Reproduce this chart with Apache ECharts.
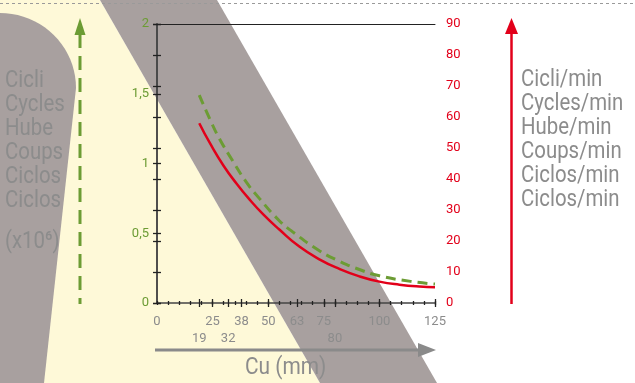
<!DOCTYPE html>
<html><head><meta charset="utf-8">
<style>html,body{margin:0;padding:0;background:#fff}#c{width:635px;height:383px}</style>
<script src="https://cdn.jsdelivr.net/npm/echarts@6/dist/echarts.min.js"></script>
</head><body><div id="c"></div>
<script>
// ---- data ----
const xRed = [19, 24, 30, 36, 41, 48, 55, 64, 73, 82, 91, 100, 109, 118, 125];
const yRed = [58, 51.3, 44.2, 38.3, 33.9, 28.4, 23.7, 18.2, 14.1, 11.0, 8.6, 6.9, 5.9, 5.3, 5.1];
const xGreen = [19, 24, 28, 34, 40, 46, 55, 61, 73, 82, 91, 100, 114, 125];
const yGreen = [1.49, 1.31, 1.18, 1.02, 0.87, 0.75, 0.59, 0.51, 0.375, 0.30, 0.24, 0.195, 0.155, 0.136];
const majorTicks = [19, 25, 32, 38, 50, 63, 75, 80, 100, 125];
const labelsRow1 = [0, 25, 38, 50, 63, 75, 100, 125];
const labelsRow2 = [19, 32, 80];
const leftText = ['Cicli', 'Cycles', 'Hube', 'Coups', 'Ciclos', 'Ciclos'];
const rightText = ['Cicli/min', 'Cycles/min', 'Hube/min', 'Coups/min', 'Ciclos/min', 'Ciclos/min'];
const leftUnit = '(x10⁶)';
const xTitle = 'Cu (mm)';

const FONT = 'Roboto, "Liberation Sans Narrow", sans-serif';
const GREEN = '#6c9c34', RED = '#e2001a', GRAYTXT = '#8c8c8c', BAND = '#a8a09f', YEL = '#fef9d8';

// decorative rounded blob outline (quarter ellipse + slanted edge)
const blobPts = [[0, 383], [0, 13]];
for (let i = 1; i <= 20; i++) {
  const t = (i / 20) * Math.PI / 2;
  blobPts.push([76 * Math.sin(t), 88 - 75 * Math.cos(t)]);
}
blobPts.push([44, 383]);

const chart = echarts.init(document.getElementById('c'), null, {renderer: 'canvas'});
const baseX = {type: 'value', min: 0, max: 125, gridIndex: 0, splitLine: {show: false}, z: 5};
const tickLine = {color: '#222', width: 1.3};
const lblFont = {fontSize: 13, fontFamily: FONT};

const option = {
  animation: false,
  backgroundColor: '#fff',
  grid: {left: 157, right: 200, top: 24, bottom: 80, containLabel: false},
  xAxis: [
    Object.assign({}, baseX, {position: 'bottom', interval: 5,
      axisLine: {show: true, lineStyle: {color: '#444', width: 1.5}},
      axisTick: {show: true, length: 2, lineStyle: tickLine}, axisLabel: {show: false}}),
    Object.assign({}, baseX, {position: 'bottom', interval: 5,
      axisLine: {show: false}, axisTick: {show: true, inside: true, length: 2, lineStyle: tickLine}, axisLabel: {show: false}}),
    Object.assign({}, baseX, {position: 'bottom',
      axisLine: {show: false},
      axisTick: {show: true, length: 4, customValues: majorTicks, lineStyle: tickLine},
      axisLabel: Object.assign({show: true, customValues: labelsRow1, margin: 12, color: GRAYTXT}, lblFont)}),
    Object.assign({}, baseX, {position: 'bottom',
      axisLine: {show: false},
      axisTick: {show: true, inside: true, length: 4, customValues: majorTicks, lineStyle: tickLine},
      axisLabel: Object.assign({show: true, customValues: labelsRow2, margin: 29, color: GRAYTXT}, lblFont)}),
    Object.assign({}, baseX, {position: 'top',
      axisLine: {show: true, onZero: false, lineStyle: {color: '#222', width: 1}},
      axisTick: {show: false}, axisLabel: {show: false}})
  ],
  yAxis: [
    {type: 'value', position: 'left', min: 0, max: 2, interval: 0.5, splitLine: {show: false}, z: 5,
      axisLine: {show: true, lineStyle: {color: '#444', width: 1.5}},
      axisTick: {show: true, length: 4, lineStyle: tickLine},
      axisLabel: Object.assign({color: GREEN, margin: 8, formatter: v => String(v).replace('.', ',')}, lblFont)},
    {type: 'value', position: 'left', min: 0, max: 2, interval: 0.5, splitLine: {show: false}, z: 5,
      axisLine: {show: false}, axisTick: {show: true, inside: true, length: 4, lineStyle: tickLine}, axisLabel: {show: false}},
    {type: 'value', position: 'right', min: 0, max: 90, interval: 10, splitLine: {show: false}, z: 5,
      axisLine: {show: true, lineStyle: {color: '#444', width: 1.5}},
      axisTick: {show: true, length: 4, lineStyle: tickLine},
      axisLabel: Object.assign({color: RED, margin: 11}, lblFont)},
    {type: 'value', position: 'right', min: 0, max: 90, interval: 10, splitLine: {show: false}, z: 5,
      axisLine: {show: false}, axisTick: {show: true, inside: true, length: 4, lineStyle: tickLine}, axisLabel: {show: false}}
  ],
  series: [
    {type: 'line', name: 'cycles/min', xAxisIndex: 0, yAxisIndex: 2, smooth: 0.5, symbol: 'none', z: 10,
      lineStyle: {color: RED, width: 2.5}, data: xRed.map((x, i) => [x, yRed[i]])},
    {type: 'line', name: 'cycles', xAxisIndex: 0, yAxisIndex: 0, smooth: 0.5, symbol: 'none', z: 10,
      lineStyle: {color: GREEN, width: 3, type: [10, 6]}, data: xGreen.map((x, i) => [x, yGreen[i]])}
  ],
  graphic: [
    {type: 'polygon', z: -10, silent: true, shape: {points: [[0, 0], [100, 0], [320, 383], [0, 383]]}, style: {fill: YEL}},
    {type: 'polygon', z: -9, silent: true, shape: {points: blobPts}, style: {fill: BAND}},
    {type: 'polygon', z: -8, silent: true, shape: {points: [[100, 0], [217, 0], [437, 383], [320, 383]]}, style: {fill: BAND}},
    {type: 'line', z: 20, silent: true, shape: {x1: 0, y1: 3.5, x2: 635, y2: 3.5}, style: {stroke: '#9a9a9a', lineWidth: 1, lineDash: [3, 3]}},
    {type: 'line', z: 1, silent: true, shape: {x1: 80, y1: 34, x2: 80, y2: 304}, style: {stroke: GREEN, lineWidth: 3, lineDash: [14, 8]}},
    {type: 'polygon', z: 1, silent: true, shape: {points: [[80, 18], [74.5, 35], [85.5, 35]]}, style: {fill: GREEN}},
    {type: 'line', z: 1, silent: true, shape: {x1: 511.5, y1: 30, x2: 511.5, y2: 304}, style: {stroke: RED, lineWidth: 2.5}},
    {type: 'polygon', z: 1, silent: true, shape: {points: [[511.5, 18], [505, 34], [518, 34]]}, style: {fill: RED}},
    {type: 'line', z: 1, silent: true, shape: {x1: 155, y1: 350, x2: 422, y2: 350}, style: {stroke: '#8a8a8a', lineWidth: 3}},
    {type: 'polygon', z: 1, silent: true, shape: {points: [[436, 350], [418, 343], [418, 357]]}, style: {fill: '#8a8a8a'}},
    {type: 'text', z: 2, silent: true, x: 5, y: 69, scaleX: 0.85, style: {text: leftText.join('\n'), x: 0, y: 0, font: '24px ' + FONT, lineHeight: 24, fill: GRAYTXT, verticalAlign: 'top'}},
    {type: 'text', z: 2, silent: true, x: 5, y: 242, scaleX: 0.85, style: {text: leftUnit, x: 0, y: 0, font: '24px ' + FONT, fill: GRAYTXT, verticalAlign: 'middle'}},
    {type: 'text', z: 2, silent: true, x: 521, y: 68, scaleX: 0.85, style: {text: rightText.join('\n'), x: 0, y: 0, font: '24px ' + FONT, lineHeight: 24, fill: GRAYTXT, verticalAlign: 'top'}},
    {type: 'text', z: 2, silent: true, x: 245, y: 368, scaleX: 0.87, style: {text: xTitle, x: 0, y: 0, font: '24px ' + FONT, fill: GRAYTXT, verticalAlign: 'middle'}}
  ]
};
chart.setOption(option);
</script></body></html>
